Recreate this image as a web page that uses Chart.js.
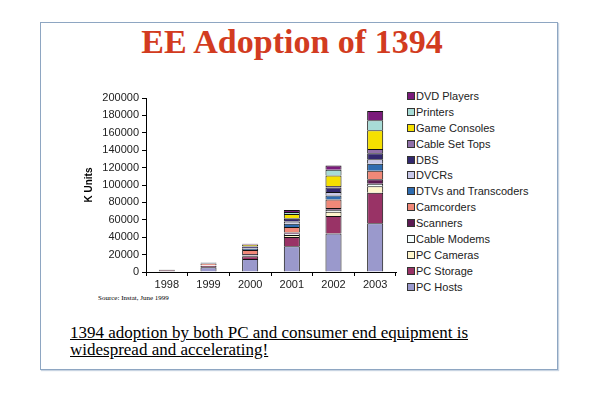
<!DOCTYPE html>
<html>
<head>
<meta charset="utf-8">
<script src="https://cdn.jsdelivr.net/npm/chart.js@4.4.1/dist/chart.umd.min.js"></script>
<style>
  body { margin: 0; background: #fff; }
  #page { position: relative; width: 600px; height: 395px; overflow: hidden; }
  #frame { position: absolute; left: 40px; top: 22px; width: 516px; height: 346px; border: 1px solid #8ea6c2; box-shadow: 1px 1px 1px #c8d4e2; }
  #title { position: absolute; left: 30px; width: 524px; top: 23px; text-align: center; font-family: "Liberation Serif", serif; font-weight: bold; font-size: 34px; color: #d23b20; }
  #box { position: absolute; left: 77px; top: 88px; width: 323px; height: 204px; }
  #legend { position: absolute; left: 407px; top: 89px; font-family: "Liberation Sans", Arial, sans-serif; font-size: 11px; color: #222; }
  #legend div { height: 15.9px; line-height: 15.9px; white-space: nowrap; }
  #legend span { display: inline-block; width: 6px; height: 6px; border: 1px solid #333; margin-right: 1px; vertical-align: -0px; }
  #source { position: absolute; left: 98px; top: 294px; font-family: "Liberation Serif", serif; font-size: 7px; color: #000; }
  #note { position: absolute; left: 70px; top: 324px; font-family: "Liberation Serif", serif; font-size: 17px; line-height: 17px; color: #000; text-decoration: underline; }
</style>
</head>
<body>
<div id="page">
  <div id="frame"></div>
  <div id="title">EE Adoption of 1394</div>
  <div id="box"><canvas id="Chart" width="323" height="204"></canvas></div>
  <div id="legend"></div>
  <div id="source">Source: Instat, June 1999</div>
  <div id="note">1394 adoption by both PC and consumer end equipment is<br>widespread and accelerating!</div>
</div>
<script>
var years = ['1998', '1999', '2000', '2001', '2002', '2003'];
var yTicks = [0, 20000, 40000, 60000, 80000, 100000, 120000, 140000, 160000, 180000, 200000];

var pcHosts     = [800, 5500, 14800, 29500, 44300, 56000];
var pcStorage   = [1200, 1500, 3400, 10700, 20100, 35000];
var pcCameras   = [0, 300, 500, 2300, 4900, 7500];
var cableModems = [0, 200, 500, 1500, 2300, 3000];
var scanners    = [0, 300, 1500, 1500, 1900, 5000];
var camcorders  = [600, 2000, 4500, 6200, 9900, 10000];
var dtvs        = [0, 300, 1500, 3700, 4500, 8000];
var dvcrs       = [0, 300, 1000, 2700, 4100, 5000];
var dbs         = [0, 300, 1500, 3000, 5000, 7000];
var setTops     = [0, 100, 500, 1000, 1800, 5000];
var games       = [0, 200, 1500, 4700, 12200, 21500];
var printers    = [0, 200, 500, 2300, 6500, 11500];
var dvd         = [0, 100, 800, 2200, 4800, 10500];

var series = [
  ['PC Hosts', pcHosts, '#9a99cc'],
  ['PC Storage', pcStorage, '#993366'],
  ['PC Cameras', pcCameras, '#fff6cc'],
  ['Cable Modems', cableModems, '#f4ffff'],
  ['Scanners', scanners, '#5c1a52'],
  ['Camcorders', camcorders, '#f08878'],
  ['DTVs and Transcoders', dtvs, '#2f6cb0'],
  ['DVCRs', dvcrs, '#c8c8e8'],
  ['DBS', dbs, '#33286e'],
  ['Cable Set Tops', setTops, '#9070a8'],
  ['Game Consoles', games, '#f5e000'],
  ['Printers', printers, '#a8dcd6'],
  ['DVD Players', dvd, '#7a1a7a']
];

var font = { family: 'Liberation Sans, Arial, sans-serif', size: 11 };

var ctx = document.getElementById('Chart').getContext('2d');
var myChart = new Chart(ctx, {
  type: 'bar',
  data: {
    labels: years,
    datasets: series.map(function (s) {
      return {
        label: s[0],
        data: s[1],
        backgroundColor: s[2],
        borderColor: '#111',
        borderWidth: 1,
        barPercentage: 0.77,
        categoryPercentage: 0.5
      };
    })
  },
  options: {
    responsive: false,
    animation: false,
    layout: { padding: { left: 0, right: 4, top: 10, bottom: 0 } },
    plugins: {
      legend: { display: false },
      tooltip: { enabled: false }
    },
    scales: {
      x: {
        stacked: true,
        grid: { drawOnChartArea: false, color: '#000', tickLength: 4, offset: true },
        border: { color: '#000' },
        ticks: { font: font, color: '#222', maxRotation: 0, padding: 2 },
        afterFit: function (axis) { axis.height = 20; }
      },
      y: {
        stacked: true,
        min: 0,
        max: 200000,
        afterBuildTicks: function (axis) {
          axis.ticks = yTicks.map(function (v) { return { value: v }; });
        },
        afterFit: function (axis) { axis.width = 69; },
        grid: { drawOnChartArea: false, color: '#000', tickLength: 4 },
        border: { color: '#000' },
        title: { display: true, text: 'K Units', font: { family: 'Liberation Sans, Arial, sans-serif', size: 10, weight: 'bold' }, color: '#000', padding: 6 },
        ticks: { font: font, color: '#222', padding: 3, callback: function (v) { return String(v); } }
      }
    }
  }
});

// legend in Excel order: last series on top
var legendHtml = myChart.data.datasets.slice().reverse().map(function (ds) {
  return '<div><span style="background:' + ds.backgroundColor + '"></span>' + ds.label + '</div>';
}).join('');
document.getElementById('legend').innerHTML = legendHtml;
</script>
</body>
</html>
